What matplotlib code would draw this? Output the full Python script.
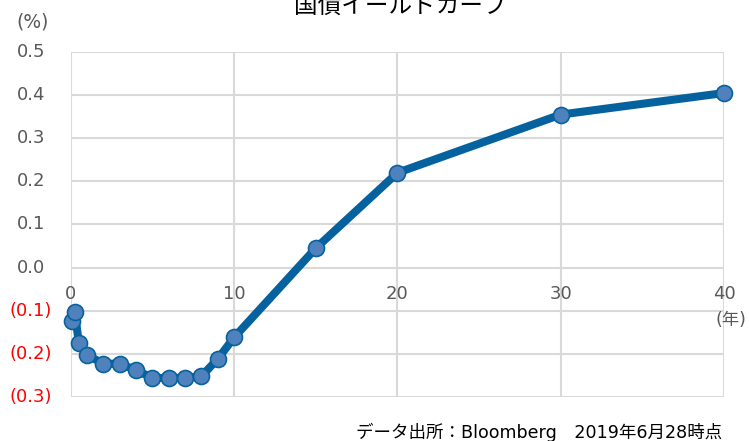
import matplotlib
matplotlib.use("Agg")
import matplotlib.pyplot as plt

plt.rcParams['font.family'] = ['DejaVu Sans', 'Noto Sans CJK JP']

# 残存年数と利回り(%)
years = [0.08, 0.25, 0.5, 1, 2, 3, 4, 5, 6, 7, 8, 9, 10, 15, 20, 30, 40]
yields = [-0.124, -0.104, -0.175, -0.203, -0.223, -0.223, -0.238, -0.256,
          -0.256, -0.256, -0.252, -0.212, -0.162, 0.045, 0.220, 0.355, 0.405]

x_ticks = [0, 10, 20, 30, 40]
y_ticks = [0.5, 0.4, 0.3, 0.2, 0.1, 0.0, -0.1, -0.2, -0.3]

title = "国債イールドカーブ"
source = "データ出所：Bloomberg\u30002019年6月28時点"

fig = plt.figure(figsize=(7.49, 4.41), dpi=100)
ax = fig.add_axes([0.0944, 0.100, 0.8726, 0.782])

ax.plot(years, yields, color='#06629f', lw=5.8, marker='o', ms=11.5,
        mfc='#4f81bd', mec='#06629f', mew=1.2, clip_on=False, zorder=3)

ax.set_xlim(0, 40)
ax.set_ylim(-0.3, 0.5)
ax.set_xticks(x_ticks)
ax.set_yticks(y_ticks)
ax.grid(True, color='#d9d9d9', lw=1.5)
ax.tick_params(length=0, labelbottom=False, labelleft=False)
for s in ax.spines.values():
    s.set_visible(False)

# x tick labels sit just under the zero line
for x in x_ticks:
    ax.annotate(str(x), (x, 0), xytext=(0, -12.5), textcoords='offset points',
                ha='center', va='top', fontsize=13, color='#595959')
ax.annotate("(年)", (40, 0), xytext=(5, -31), textcoords='offset points',
            ha='center', va='top', fontsize=12.5, color='#595959')

# y tick labels, negatives in red with parentheses
for y in y_ticks:
    if y < 0:
        txt, col, dx = "({:.1f})".format(-y), '#ff0000', -13.5
    else:
        txt, col, dx = "{:.1f}".format(y), '#595959', -18.5
    ax.annotate(txt, (0, y), xycoords=('axes fraction', 'data'),
                xytext=(dx, 0), textcoords='offset points',
                ha='right', va='center', fontsize=13, color=col)

fig.text(33 / 749, 1 - 22 / 441, "(%)", ha='center', va='center',
         fontsize=13.5, color='#595959')
fig.text(400 / 749, 1 - 6 / 441, title, ha='center', va='center',
         fontsize=17, color='#000000', family=['Noto Sans CJK JP'])
fig.text(722 / 749, 1 - 432 / 441, source, ha='right', va='center',
         fontsize=12.6, color='#000000')

fig.savefig("out.png", dpi=100)
